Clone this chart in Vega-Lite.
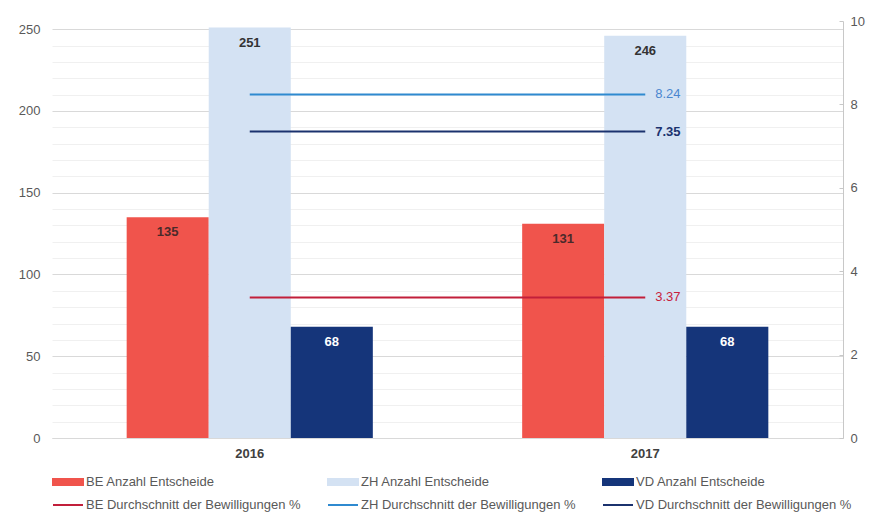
{
  "$schema": "https://vega.github.io/schema/vega-lite/v6.json",
  "width": 791,
  "height": 417,
  "autosize": {"type": "none"},
  "padding": {"left": 52, "top": 21, "right": 28, "bottom": 81},
  "background": "white",
  "config": {
    "view": {"stroke": null},
    "font": "Liberation Sans",
    "axis": {"labelFont": "Liberation Sans", "labelColor": "#595959", "labelFontSize": 13},
    "legend": {"labelFont": "Liberation Sans"}
  },
  "datasets": {
    "counts": [
      {"year": "2016", "series": "BE Anzahl Entscheide", "value": 135},
      {"year": "2016", "series": "ZH Anzahl Entscheide", "value": 251},
      {"year": "2016", "series": "VD Anzahl Entscheide", "value": 68},
      {"year": "2017", "series": "BE Anzahl Entscheide", "value": 131},
      {"year": "2017", "series": "ZH Anzahl Entscheide", "value": 246},
      {"year": "2017", "series": "VD Anzahl Entscheide", "value": 68}
    ],
    "rates": [
      {"year": "2016", "series": "BE Durchschnitt der Bewilligungen %", "pct": 3.37},
      {"year": "2017", "series": "BE Durchschnitt der Bewilligungen %", "pct": 3.37},
      {"year": "2016", "series": "ZH Durchschnitt der Bewilligungen %", "pct": 8.24},
      {"year": "2017", "series": "ZH Durchschnitt der Bewilligungen %", "pct": 8.24},
      {"year": "2016", "series": "VD Durchschnitt der Bewilligungen %", "pct": 7.35},
      {"year": "2017", "series": "VD Durchschnitt der Bewilligungen %", "pct": 7.35}
    ]
  },
  "layer": [
    {
      "data": {"name": "counts"},
      "encoding": {
        "x": {
          "field": "year", "type": "nominal",
          "scale": {"paddingInner": 0, "paddingOuter": 0},
          "axis": {
            "title": null, "labelAngle": 0, "labelFontWeight": "bold", "labelColor": "#404040",
            "labelFontSize": 13, "ticks": false, "labelPadding": 9,
            "domain": true, "domainColor": "#d9d9d9", "grid": false
          }
        },
        "xOffset": {
          "field": "series", "type": "nominal",
          "scale": {
            "domain": ["BE Anzahl Entscheide", "ZH Anzahl Entscheide", "VD Anzahl Entscheide"],
            "paddingInner": 0, "paddingOuter": 0.91
          }
        },
        "y": {
          "field": "value", "type": "quantitative",
          "scale": {"domain": [0, 255], "nice": false},
          "axis": {
            "title": null, "orient": "left",
            "values": [0, 10, 20, 30, 40, 50, 60, 70, 80, 90, 100, 110, 120, 130, 140, 150, 160, 170, 180, 190, 200, 210, 220, 230, 240, 250],
            "labelExpr": "datum.value % 50 === 0 ? datum.label : ''",
            "grid": true,
            "gridColor": {"condition": {"test": "datum.value % 50 === 0", "value": "#d9d9d9"}, "value": "#f0f0f0"},
            "ticks": false, "domain": false, "labelPadding": 12
          }
        }
      },
      "layer": [
        {
          "mark": {"type": "bar"},
          "encoding": {
            "color": {
              "field": "series", "type": "nominal",
              "scale": {
                "domain": [
                  "BE Anzahl Entscheide", "ZH Anzahl Entscheide", "VD Anzahl Entscheide",
                  "BE Durchschnitt der Bewilligungen %", "ZH Durchschnitt der Bewilligungen %", "VD Durchschnitt der Bewilligungen %"
                ],
                "range": ["#f0544c", "#d4e2f3", "#15357a", "#c21f3a", "#2f8ad0", "#1b326e"]
              },
              "legend": {
                "title": null, "orient": "bottom", "direction": "horizontal", "columns": 3,
                "labelLimit": 400, "labelFontSize": 13, "labelColor": "#595959",
                "symbolSize": 900, "labelOffset": 2, "columnPadding": 22, "rowPadding": -9,
                "gridAlign": "all", "offset": 6,
                "encode": {
                  "symbols": {
                    "update": {
                      "shape": {"signal": "test(/Anzahl/, datum.value) ? 'M-1,-0.2H1V0.2H-1Z' : 'M-1,0H1'"},
                      "fill": {"signal": "test(/Anzahl/, datum.value) ? scale('color', datum.value) : 'transparent'"},
                      "stroke": {"signal": "test(/Anzahl/, datum.value) ? 'transparent' : scale('color', datum.value)"},
                      "strokeWidth": {"value": 2},
                      "opacity": {"value": 1}
                    }
                  }
                }
              }
            }
          }
        },
        {
          "mark": {"type": "text", "baseline": "middle", "dy": 15, "fontWeight": "bold", "fontSize": 13, "font": "Liberation Sans"},
          "encoding": {
            "text": {"field": "value", "type": "quantitative"},
            "color": {
              "condition": [
                {"test": "datum.series === 'VD Anzahl Entscheide'", "value": "#ffffff"},
                {"test": "datum.series === 'BE Anzahl Entscheide'", "value": "#4a2a2a"}
              ],
              "value": "#333333"
            }
          }
        }
      ]
    },
    {
      "data": {"name": "rates"},
      "encoding": {
        "x": {
          "field": "year", "type": "nominal",
          "axis": {
            "title": null, "labelAngle": 0, "labelFontWeight": "bold", "labelColor": "#404040",
            "labelFontSize": 13, "ticks": false, "labelPadding": 9,
            "domain": true, "domainColor": "#d9d9d9", "grid": false
          }
        },
        "y": {
          "field": "pct", "type": "quantitative",
          "scale": {"domain": [0, 10], "nice": false},
          "axis": {
            "title": null, "orient": "right", "values": [0, 2, 4, 6, 8, 10],
            "grid": false, "domain": true, "domainColor": "#c8c8c8",
            "ticks": true, "tickColor": "#c8c8c8", "tickSize": -4, "labelPadding": 11
          }
        }
      },
      "layer": [
        {
          "mark": {"type": "line", "strokeWidth": 2},
          "encoding": {
            "color": {"field": "series", "type": "nominal"}
          }
        },
        {
          "transform": [{"filter": "datum.year === '2017' && datum.series !== 'VD Durchschnitt der Bewilligungen %'"}],
          "mark": {"type": "text", "align": "left", "baseline": "middle", "dx": 10, "fontSize": 13, "font": "Liberation Sans"},
          "encoding": {
            "text": {"field": "pct", "type": "quantitative", "format": ".2f"},
            "color": {
              "condition": {"test": "datum.series === 'ZH Durchschnitt der Bewilligungen %'", "value": "#4a86cf"},
              "value": "#c8203c"
            }
          }
        },
        {
          "transform": [{"filter": "datum.year === '2017' && datum.series === 'VD Durchschnitt der Bewilligungen %'"}],
          "mark": {"type": "text", "align": "left", "baseline": "middle", "dx": 10, "fontSize": 13, "fontWeight": "bold", "font": "Liberation Sans", "color": "#1b326e"},
          "encoding": {
            "text": {"field": "pct", "type": "quantitative", "format": ".2f"}
          }
        }
      ]
    }
  ],
  "resolve": {"scale": {"y": "independent"}}
}
